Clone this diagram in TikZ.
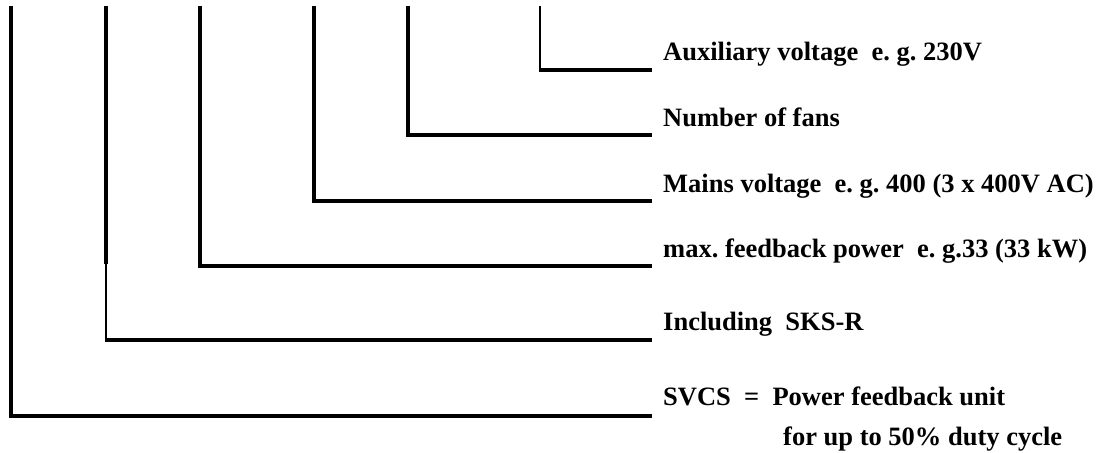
\documentclass[tikz,border=0pt]{standalone}
\usepackage{fontspec}
\setmainfont{Liberation Serif}
\frenchspacing
\begin{document}
\begin{tikzpicture}[x=1pt,y=-1pt,
  lbl/.style={anchor=base west, inner sep=0pt, font=\fontsize{26.5}{30}\selectfont\bfseries},
  lead/.style={line width=4pt, line join=miter},
  thinlead/.style={line width=2pt}]
\useasboundingbox (0,0) rectangle (1099,452);
% labels
\node[lbl] (aux) at (663,60) {Auxiliary voltage\ \ e. g. 230V};
\node[lbl] (fans) at (663,126) {Number of fans};
\node[lbl] (mains) at (663,192) {Mains voltage\ \ e. g. 400 (3 x 400V AC)};
\node[lbl] (maxp) at (663,257) {max. feedback power\ \ e. g.33 (33 kW)};
\node[lbl] (incl) at (663,330) {Including\ \ SKS-R};
\node[lbl] (svcs) at (663,405) {SVCS\ \ =\ \ Power feedback unit};
\node[lbl] (duty) at (783,445) {for up to 50\% duty cycle};
% leads
\coordinate (t1) at (11,6);   \coordinate (c1) at (11,416);  \coordinate (e1) at (652,416);
\coordinate (t2) at (106,6);  \coordinate (m2) at (106,264); \coordinate (c2) at (106,340); \coordinate (e2) at (652,340);
\coordinate (t3) at (200,6);  \coordinate (c3) at (200,266); \coordinate (e3) at (652,266);
\coordinate (t4) at (314,6);  \coordinate (c4) at (314,201); \coordinate (e4) at (652,201);
\coordinate (t5) at (408,6);  \coordinate (c5) at (408,135); \coordinate (e5) at (652,135);
\coordinate (t6) at (540,6);  \coordinate (c6) at (540,70);  \coordinate (e6) at (652,70);
\draw[lead] (t1) -- (c1) -- (e1);
\draw[lead] (t2) -- (m2);
\draw[thinlead] (m2) -- (c2);
\draw[lead] (105,340) -- (e2);
\draw[lead] (t3) -- (c3) -- (e3);
\draw[lead] (t4) -- (c4) -- (e4);
\draw[lead] (t5) -- (c5) -- (e5);
\draw[thinlead] (t6) -- (c6);
\draw[lead] (539,70) -- (e6);
\end{tikzpicture}
\end{document}
